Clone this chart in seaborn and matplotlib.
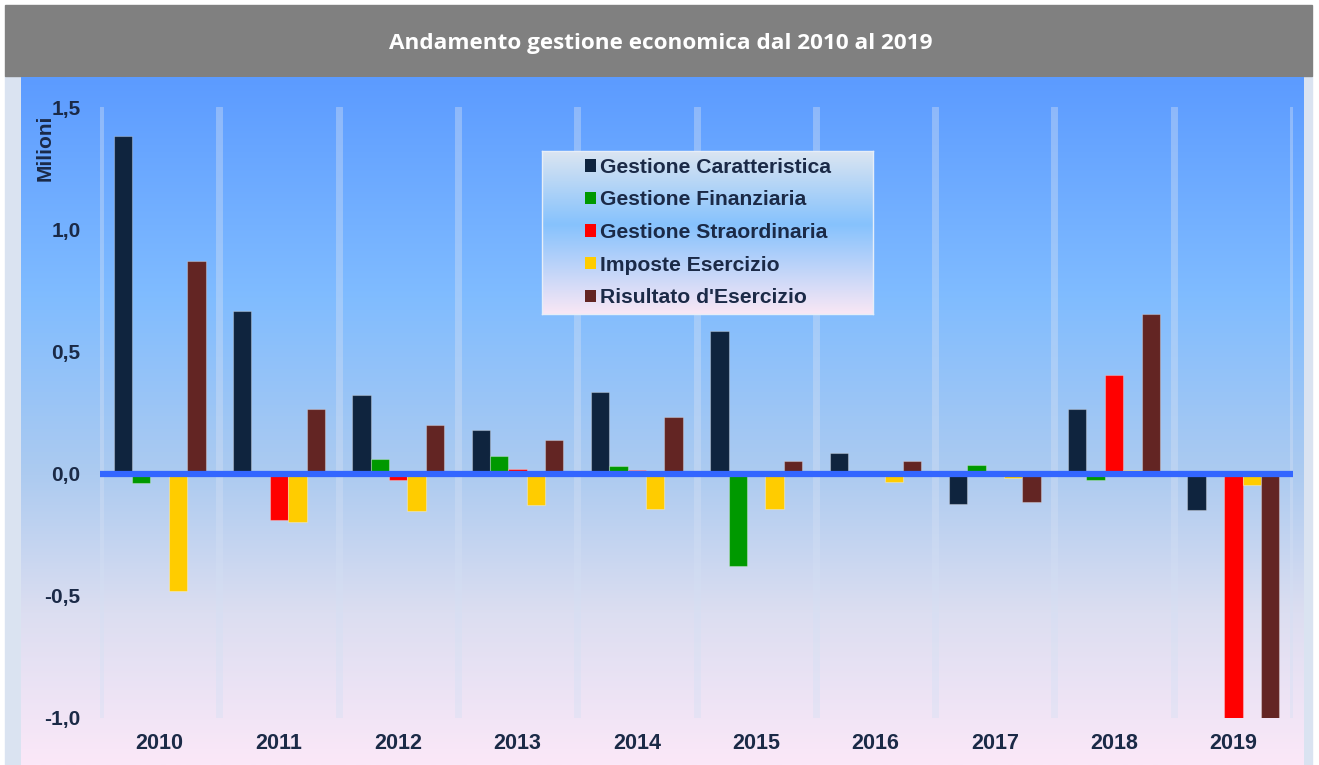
import numpy as np
import pandas as pd
import seaborn as sns
import matplotlib.pyplot as plt
from matplotlib.patches import Rectangle, Patch
from matplotlib.colors import LinearSegmentedColormap

# values in millions
years = ['2010', '2011', '2012', '2013', '2014', '2015', '2016', '2017', '2018', '2019']
gest_caratteristica = [1.38, 0.665, 0.32, 0.178, 0.334, 0.583, 0.084, -0.125, 0.265, -0.15]
gest_finanziaria = [-0.04, -0.005, 0.059, 0.07, 0.031, -0.38, 0.0, 0.035, -0.025, 0.0]
gest_straordinaria = [0.0, -0.19, -0.027, 0.018, 0.015, 0.0, 0.0, 0.0, 0.403, -1.05]
imposte_esercizio = [-0.48, -0.198, -0.153, -0.128, -0.145, -0.145, -0.035, -0.02, 0.015, -0.045]
risultato_esercizio = [0.869, 0.264, 0.2, 0.137, 0.231, 0.05, 0.05, -0.115, 0.653, -1.05]

series = ['Gestione Caratteristica', 'Gestione Finanziaria', 'Gestione Straordinaria',
          'Imposte Esercizio', "Risultato d'Esercizio"]
colors = ['#0f243e', '#009900', '#ff0000', '#ffcc00', '#632523']
yticks = [-1.0, -0.5, 0.0, 0.5, 1.0, 1.5]

df = pd.DataFrame({
    'anno': years * 5,
    'serie': np.repeat(series, len(years)),
    'valore': gest_caratteristica + gest_finanziaria + gest_straordinaria
              + imposte_esercizio + risultato_esercizio,
})

sns.set_theme(style='white')
plt.rcParams['font.family'] = ['Liberation Sans', 'DejaVu Sans']
txt = '#1b2a47'

W, H = 1319, 765
fig = plt.figure(figsize=(W / 100, H / 100), dpi=100, facecolor='white')

# outer frame + title bar
fig.patches.append(Rectangle((5 / W, 0), 1307 / W, 689 / H, transform=fig.transFigure,
                             color='#dae3f1', zorder=-3))
fig.patches.append(Rectangle((5 / W, 1 - 76 / H), 1307 / W, 71 / H, transform=fig.transFigure,
                             color='#808080', zorder=-3))
fig.text(0.501, 1 - 43 / H, 'Andamento gestione economica dal 2010 al 2019', color='white',
         fontsize=16.2, fontweight='bold', family='Open Sans', ha='center', va='center')

# gradient panel behind the plot
bg = fig.add_axes([21 / W, 0, 1283 / W, 688 / H], zorder=-2)
bg_cmap = LinearSegmentedColormap.from_list('bg', [
    (0.0, '#5c9bff'), (0.32, '#80bcff'), (0.58, '#adcbf0'), (0.78, '#dcdef1'), (1.0, '#fbe8f8')])
bg.imshow(np.linspace(0, 1, 256).reshape(-1, 1), cmap=bg_cmap, aspect='auto',
          extent=[0, 1, 0, 1], origin='upper')
bg.axis('off')

ax = fig.add_axes([100 / W, (H - 718) / H, 1193 / W, 611 / H])
ax.set_facecolor('none')
sns.barplot(data=df, x='anno', y='valore', hue='serie', palette=colors, width=0.77,
            saturation=1, errorbar=None, legend=False, ax=ax,
            edgecolor=(1, 1, 1, 0.3), linewidth=0.8)

ax.set_xlim(-0.5, 9.5)
ax.set_ylim(-1.0, 1.5)
ax.set_xlabel('')
ax.set_ylabel('')
for s in ['left', 'right', 'top']:
    ax.spines[s].set_visible(False)
ax.spines['bottom'].set_position(('data', 0))
ax.spines['bottom'].set_color('#3366ff')
ax.spines['bottom'].set_linewidth(4.5)
ax.spines['bottom'].set_capstyle('butt')
ax.spines['bottom'].set_zorder(5)

# separators between years
ax.set_xticks(np.arange(-0.5, 10, 1))
ax.set_xticklabels([])
ax.tick_params(axis='x', which='major', length=5, width=4, color='#3366ff', direction='out')
ax.xaxis.grid(True, color='#d4e0f4', alpha=0.4, linewidth=5)
ax.set_axisbelow(True)

ax.set_yticks(yticks)
ax.set_yticklabels([f'{v:.1f}'.replace('.', ',') for v in yticks], fontsize=15,
                   fontweight='bold', color=txt)
ax.tick_params(axis='y', length=0, pad=14)

sec = ax.secondary_xaxis('bottom')
sec.set_xticks(range(len(years)))
sec.set_xticklabels(years, fontsize=15.5, fontweight='bold', color=txt)
sec.tick_params(length=0, pad=11)
sec.spines['bottom'].set_visible(False)

fig.text(45 / W, 1 - 148 / H, 'Milioni', rotation=90, ha='center', va='center',
         fontsize=15, fontweight='bold', color=txt)

# legend box with its own gradient
lax = fig.add_axes([542 / W, 1 - 314 / H, 331 / W, 163 / H], zorder=10)
leg_cmap = LinearSegmentedColormap.from_list('leg', [
    (0.0, '#dbe5f1'), (0.45, '#86c2fd'), (1.0, '#f9e7f5')])
lax.imshow(np.linspace(0, 1, 256).reshape(-1, 1), cmap=leg_cmap, aspect='auto',
           extent=[0, 1, 0, 1], origin='upper')
lax.set_xticks([])
lax.set_yticks([])
for s in lax.spines.values():
    s.set_color('#e6eef8')
    s.set_linewidth(1)
handles = [Patch(facecolor=c, edgecolor='none') for c in colors]
lax.legend(handles, series, loc='center left', bbox_to_anchor=(0.13, 0.5), frameon=False,
           prop={'size': 15.2, 'weight': 'bold'}, labelcolor=txt,
           borderpad=0, borderaxespad=0,
           handlelength=0.5, handleheight=0.5, handletextpad=0.2, labelspacing=0.64)

fig.savefig('out.png', dpi=100, facecolor='white')
